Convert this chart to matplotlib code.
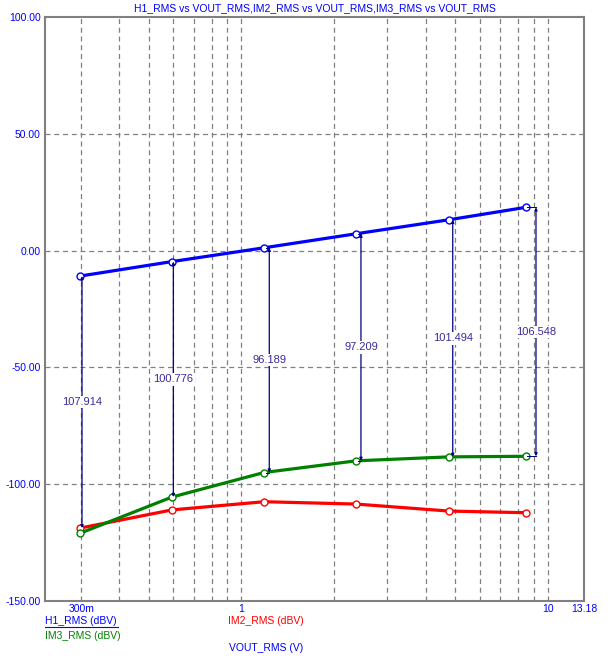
import matplotlib
matplotlib.use('Agg')
import matplotlib.pyplot as plt
from matplotlib.ticker import FixedLocator, NullFormatter

# Values
vout = [0.2976, 0.594, 1.186, 2.368, 4.763, 8.47]
h1_rms = [-10.9, -4.7, 1.2, 7.2, 13.2, 18.5]
im2_rms = [-118.8, -111.0, -107.5, -108.5, -111.5, -112.2]
im3_rms = [-121.0, -105.5, -95.0, -90.0, -88.3, -88.05]

# dimension lines between curves: x position, lower curve, label
dim_x = [0.302, 0.600, 1.234, 2.458, 4.90, 9.16]
dim_low = ['im2', 'im3', 'im3', 'im3', 'im3', 'im3']
dim_labels = ['107.914', '100.776', '96.189', '97.209', '101.494', '106.548']

x_ticks = [0.3, 1, 10, 13.18]
x_ticklabels = ['300m', '1', '10', '13.18']
y_ticks = [-150, -100, -50, 0, 50, 100]

plt.rcParams['font.family'] = ['Liberation Sans', 'DejaVu Sans']
plt.rcParams['font.size'] = 7.5

fig = plt.figure(figsize=(6.11, 6.65), dpi=100)
ax = fig.add_axes([45 / 611, 64 / 665, (584.4 - 45) / 611, (601 - 17) / 665])

ax.set_xscale('log')
ax.set_xlim(0.2287, 13.18)
ax.set_ylim(-150, 100)

# grid
minor = [0.3, 0.4, 0.5, 0.6, 0.7, 0.8, 0.9, 2, 3, 4, 5, 6, 7, 8, 9]
ax.xaxis.set_major_locator(FixedLocator(x_ticks))
ax.xaxis.set_minor_locator(FixedLocator(minor))
ax.xaxis.set_minor_formatter(NullFormatter())
ax.set_xticklabels(x_ticklabels)
ax.set_yticks(y_ticks)
ax.set_yticklabels(['%.2f' % v for v in y_ticks])
for g in [0.3, 0.4, 0.5, 0.6, 0.7, 0.8, 0.9, 1, 2, 3, 4, 5, 6, 7, 8, 9, 10]:
    ax.axvline(g, color='#808080', ls=(0, (4, 3)), lw=0.9, zorder=0)
for g in [-100, -50, 0, 50]:
    ax.axhline(g, color='#808080', ls=(0, (4, 3)), lw=0.9, zorder=0)
ax.tick_params(axis='both', which='both', length=0, colors='#0000ff', labelsize=7.5)
ax.tick_params(axis='x', pad=2)
ax.tick_params(axis='y', pad=3)
for s in ax.spines.values():
    s.set_color('#808080')
    s.set_linewidth(1.5)

# curves
mk = dict(marker='o', ms=5, mfc='white', mew=1)
ax.plot(vout, h1_rms, color='#0000ff', lw=2.3, mec='#0000ff', zorder=4, **mk)
ax.plot(vout, im2_rms, color='#ff0000', lw=2.3, mec='#ff0000', zorder=3, **mk)
ax.plot(vout, im3_rms, color='#008000', lw=2.3, mec='#008000', zorder=3, **mk)

# dimension lines
for i, x in enumerate(dim_x):
    top = h1_rms[i]
    low = im2_rms[i] if dim_low[i] == 'im2' else im3_rms[i]
    ax.annotate('', xy=(x, top), xytext=(x, low),
                arrowprops=dict(arrowstyle='<|-|>', color='#000080', lw=0.9,
                                mutation_scale=4, shrinkA=0, shrinkB=0),
                zorder=5)
    if x / vout[i] > 1.03:
        ax.plot([vout[i] * 1.012, x], [top, top], color='#000080', lw=0.7, zorder=5)
        ax.plot([vout[i] * 1.012, x], [low, low], color='#000080', lw=0.7, zorder=5)
    ax.text(x, (top + low) / 2, dim_labels[i], color='#3a2a9a', fontsize=8,
            ha='center', va='center', zorder=6,
            bbox=dict(facecolor='white', edgecolor='none', pad=1))

ax.set_title('H1_RMS vs VOUT_RMS,IM2_RMS vs VOUT_RMS,IM3_RMS vs VOUT_RMS',
             color='#0000ff', fontsize=7.5, pad=4)

# legend-like captions under the axis
fig.text(45 / 611, 1 - 621 / 665, 'H1_RMS (dBV)', color='#0000ff', fontsize=7.5,
         va='center', ha='left')
fig.lines.append(plt.Line2D([45 / 611, 118 / 611], [1 - 627 / 665, 1 - 627 / 665],
                            color='#0000ff', lw=0.8, transform=fig.transFigure))
fig.text(228 / 611, 1 - 621 / 665, 'IM2_RMS (dBV)', color='#ff0000', fontsize=7.5,
         va='center', ha='left')
fig.text(45 / 611, 1 - 636 / 665, 'IM3_RMS (dBV)', color='#008000', fontsize=7.5,
         va='center', ha='left')
fig.text(229 / 611, 1 - 648 / 665, 'VOUT_RMS (V)', color='#0000ff', fontsize=7.5,
         va='center', ha='left')

fig.savefig('out.png', dpi=100)
